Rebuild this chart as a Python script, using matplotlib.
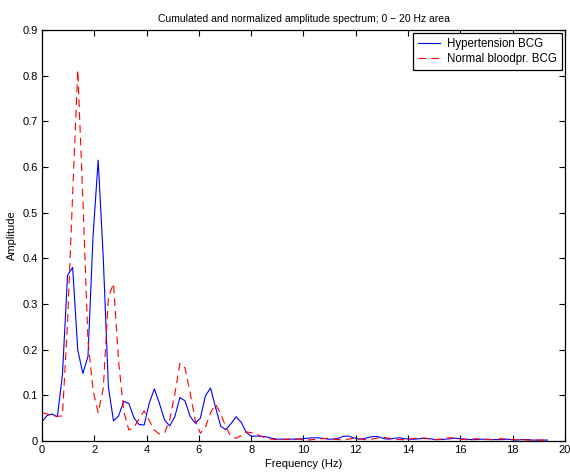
import numpy as np
import matplotlib
matplotlib.use("Agg")
import matplotlib.pyplot as plt

plt.rcParams['font.family'] = ['Liberation Sans', 'DejaVu Sans']

# frequency bin spacing of the spectrum (Hz)
freq_step = 0.1953

hypertension = [
    0.042, 0.056, 0.059, 0.053, 0.145, 0.363, 0.380, 0.199, 0.148, 0.185,
    0.450, 0.615, 0.400, 0.118, 0.044, 0.055, 0.087, 0.082, 0.051, 0.036,
    0.035, 0.083, 0.114, 0.082, 0.046, 0.033, 0.053, 0.095, 0.088, 0.054,
    0.039, 0.050, 0.099, 0.116, 0.073, 0.032, 0.025, 0.038, 0.053, 0.041,
    0.019, 0.010, 0.011, 0.010, 0.009, 0.006, 0.004, 0.004, 0.004, 0.004,
    0.004, 0.005, 0.006, 0.007, 0.007, 0.006, 0.004, 0.004, 0.006, 0.010,
    0.011, 0.007, 0.004, 0.005, 0.008, 0.010, 0.009, 0.005, 0.004, 0.006,
    0.007, 0.005, 0.004, 0.004, 0.005, 0.006, 0.005, 0.003, 0.003, 0.004,
    0.005, 0.006, 0.005, 0.004, 0.003, 0.003, 0.004, 0.004, 0.003, 0.003,
    0.003, 0.004, 0.003, 0.002, 0.003, 0.003, 0.002, 0.002, 0.002, 0.002,
]

normal = [
    0.062, 0.059, 0.056, 0.054, 0.055, 0.260, 0.540, 0.812, 0.530, 0.220,
    0.110, 0.062, 0.115, 0.315, 0.345, 0.175, 0.065, 0.024, 0.030, 0.048,
    0.066, 0.045, 0.024, 0.015, 0.018, 0.046, 0.102, 0.170, 0.160, 0.106,
    0.045, 0.017, 0.030, 0.062, 0.080, 0.060, 0.030, 0.010, 0.006, 0.012,
    0.020, 0.018, 0.015, 0.010, 0.006, 0.004, 0.003, 0.003, 0.004, 0.005,
    0.004, 0.003, 0.002, 0.003, 0.004, 0.005, 0.006, 0.004, 0.003, 0.003,
    0.004, 0.006, 0.005, 0.003, 0.003, 0.005, 0.007, 0.008, 0.006, 0.004,
    0.003, 0.003, 0.004, 0.006, 0.007, 0.006, 0.004, 0.003, 0.004, 0.006,
    0.007, 0.006, 0.004, 0.003, 0.004, 0.005, 0.004, 0.003, 0.003, 0.004,
    0.005, 0.004, 0.003, 0.003, 0.003, 0.002, 0.002, 0.002, 0.002, 0.002,
]

freqs = np.arange(len(hypertension)) * freq_step

fig = plt.figure(figsize=(5.7, 4.72), dpi=100)
ax = fig.add_axes([0.0737, 0.0657, 0.9175, 0.8707])

ax.plot(freqs, hypertension, color='blue', linewidth=0.8, label='Hypertension BCG')
ax.plot(freqs, normal, color='red', linewidth=0.8, linestyle=(0, (7, 4.5)),
        label='Normal bloodpr. BCG')

ax.set_xlim(0, 20)
ax.set_ylim(0, 0.9)
ax.set_xticks(np.arange(0, 21, 2))
ax.set_yticks(np.arange(0, 0.91, 0.1))
ax.set_yticklabels(['0', '0.1', '0.2', '0.3', '0.4', '0.5', '0.6', '0.7', '0.8', '0.9'])
ax.tick_params(direction='in', top=True, right=True, length=4, width=0.8, labelsize=8, pad=3)
for s in ax.spines.values():
    s.set_linewidth(0.9)

ax.set_title('Cumulated and normalized amplitude spectrum; 0 \u2212 20 Hz area', fontsize=7.5, pad=6)
ax.set_xlabel('Frequency (Hz)', fontsize=8, labelpad=3)
ax.set_ylabel('Amplitude', fontsize=8, labelpad=4)

leg = ax.legend(loc='upper right', fontsize=8.3, fancybox=False, edgecolor='black',
                framealpha=1, borderpad=0.45, labelspacing=0.25, handlelength=1.9,
                handletextpad=0.6, borderaxespad=0.25)
leg.get_frame().set_linewidth(0.9)

fig.savefig('out.png', dpi=100)
